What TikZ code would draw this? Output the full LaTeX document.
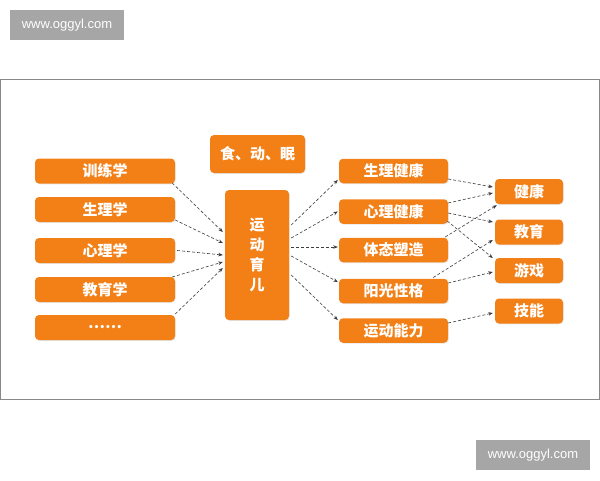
\documentclass[tikz,border=0pt]{standalone}
\usepackage{fontspec}
\newfontfamily\cjk{Noto Sans CJK SC}
\newfontfamily\wmfont{Liberation Sans}
\usetikzlibrary{arrows.meta,shadows}
\definecolor{boxorange}{RGB}{243,128,22}
\definecolor{wmgray}{RGB}{166,166,166}
\definecolor{framegray}{RGB}{136,136,136}
\definecolor{arrowgray}{RGB}{60,60,60}
\begin{document}
\begin{tikzpicture}[x=1pt,y=-1pt,
  obox/.style={fill=boxorange, draw=none, rounded corners=4pt, text=white,
    font=\cjk\bfseries\fontsize{15}{20}\selectfont, inner sep=0pt,
    drop shadow={opacity=0.2, shadow xshift=0.6pt, shadow yshift=-0.8pt}},
  lbox/.style={obox, minimum width=140pt, minimum height=25pt},
  mbox/.style={obox, minimum width=109pt, minimum height=24.5pt},
  rbox/.style={obox, minimum width=68pt, minimum height=25pt},
  wm/.style={fill=wmgray, text=white, font=\wmfont\fontsize{13}{15}\selectfont,
    minimum width=114pt, minimum height=30pt, inner sep=0pt},
  arr/.style={draw=arrowgray, line width=0.6pt, dash pattern=on 3pt off 2pt,
    -{Stealth[length=4.5pt,width=3.5pt]}}
]
\useasboundingbox (0,0) rectangle (600,480);
\fill[white] (0,0) rectangle (600,480);
% frame
\draw[framegray, line width=1pt] (0.5,79.5) rectangle (599,399);
% watermarks
\node[wm] (wm1) at (67,25) {www.oggyl.com};
\node[wm] (wm2) at (533,455) {www.oggyl.com};
% left column
\node[lbox] (L1) at (105,171) {训练学};
\node[lbox] (L2) at (105,209.5) {生理学};
\node[lbox] (L3) at (105,250.5) {心理学};
\node[lbox] (L4) at (105,289.5) {教育学};
\node[lbox] (L5) at (105,327.5) {……};
% center
\node[obox, minimum width=95pt, minimum height=38pt] (F) at (257.5,154) {食、动、眠};
\node[obox, minimum width=64pt, minimum height=130pt, align=center] (C) at (257,255) {运\\动\\育\\儿};
% middle column
\node[mbox] (M1) at (393.5,171) {生理健康};
\node[mbox] (M2) at (393.5,211.5) {心理健康};
\node[mbox] (M3) at (393.5,250) {体态塑造};
\node[mbox] (M4) at (393.5,291) {阳光性格};
\node[mbox] (M5) at (393.5,330.5) {运动能力};
% right column
\node[rbox] (R1) at (529,191.5) {健康};
\node[rbox] (R2) at (529,232) {教育};
\node[rbox] (R3) at (529,270.5) {游戏};
\node[rbox] (R4) at (529,311) {技能};
% left -> center
\draw[arr] ([xshift=-3pt,yshift=-12pt]L1.east) -- ([xshift=-2pt,yshift=23pt]C.west);
\draw[arr] ([yshift=-10.5pt]L2.east) -- ([xshift=-2pt,yshift=12pt]C.west);
\draw[arr] ([xshift=2pt]L3.east) -- ([xshift=-2pt]C.west);
\draw[arr] ([xshift=-3pt,yshift=12.5pt]L4.east) -- ([xshift=-2pt,yshift=-7pt]C.west);
\draw[arr] ([yshift=13.5pt]L5.east) -- ([xshift=-2pt,yshift=-13pt]C.west);
% center -> middle
\draw[arr] ([xshift=2pt,yshift=30pt]C.east) -- ([xshift=-1pt,yshift=-9pt]M1.west);
\draw[arr] ([xshift=2pt,yshift=17pt]C.east) -- ([xshift=-1pt]M2.west);
\draw[arr] ([xshift=2pt,yshift=8pt]C.east) -- ([xshift=-1pt,yshift=3pt]M3.west);
\draw[arr] ([xshift=2pt,yshift=-1pt]C.east) -- ([xshift=-1pt,yshift=9pt]M4.west);
\draw[arr] ([xshift=2pt,yshift=-20pt]C.east) -- ([xshift=-1pt,yshift=10.5pt]M5.west);
% middle -> right
\draw[arr] ([yshift=-8pt]M1.east) -- ([xshift=-2pt,yshift=4.5pt]R1.west);
\draw[arr] ([yshift=8.5pt]M2.east) -- ([xshift=-2pt,yshift=-1.5pt]R1.west);
\draw[arr] ([yshift=-1.5pt]M2.east) -- ([xshift=-2pt,yshift=10pt]R2.west);
\draw[arr] ([xshift=-1pt,yshift=-9.5pt]M2.east) -- ([xshift=-2pt,yshift=12.5pt]R3.west);
\draw[arr] ([xshift=-3pt,yshift=13pt]M3.east) -- ([xshift=2pt,yshift=-1pt]R1.south west);
\draw[arr] ([xshift=-15pt,yshift=1pt]M4.north east) -- ([xshift=-2pt,yshift=-8pt]R2.west);
\draw[arr] ([yshift=8pt]M4.east) -- ([xshift=-2pt,yshift=-1.5pt]R3.west);
\draw[arr] ([yshift=7.5pt]M5.east) -- ([xshift=-2pt,yshift=-2pt]R4.west);
\end{tikzpicture}
\end{document}
